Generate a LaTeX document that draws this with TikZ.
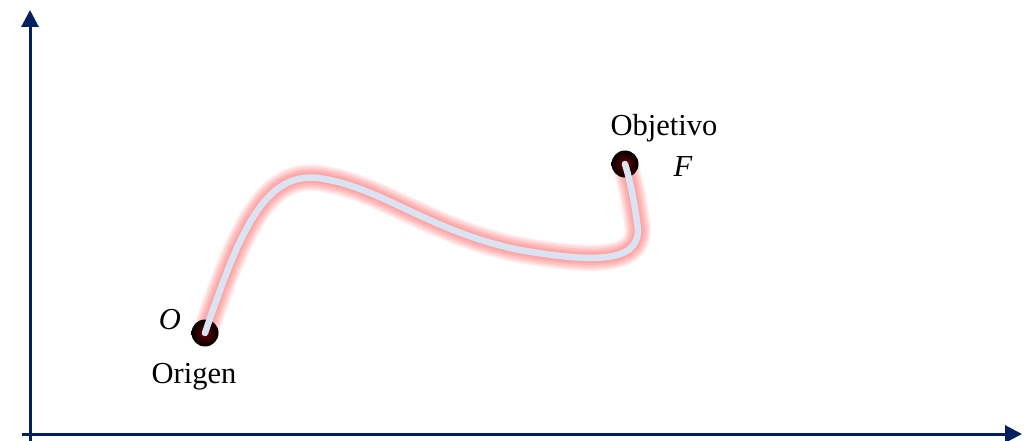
\documentclass[tikz,border=0pt]{standalone}
\usepackage{fontspec}
\setmainfont{Liberation Serif}
\usetikzlibrary{arrows.meta}
\definecolor{axisblue}{RGB}{0,32,96}
\definecolor{corecol}{RGB}{218,227,242}
\definecolor{dotred}{RGB}{110,0,0}
\tikzset{
  axis/.style={draw=axisblue, line width=3pt, -{Triangle[length=17pt,width=17pt]}},
  dot/.style={circle, minimum size=27pt, inner sep=0pt, shading=radial, inner color=dotred, outer color=black},
  lbl/.style={font=\fontsize{30.5}{36}\selectfont, inner sep=0pt},
  glow/.style={draw=red!75, line width=#1, opacity=0.12, line cap=round},
  core/.style={draw=corecol, line width=6.5pt, line cap=round}
}
\begin{document}
\begin{tikzpicture}[x=1pt,y=-1pt]
\useasboundingbox (0,0) rectangle (1026,441);
\coordinate (yb) at (30,441);
\coordinate (yt) at (30,10);
\coordinate (xl) at (22,434);
\coordinate (xr) at (1022,434);
\draw[axis] (yb) -- (yt);
\draw[axis] (xl) -- (xr);
\coordinate (o) at (205,333);
\coordinate (f) at (625,164);
\def\curve{(o) .. controls (240,230) and (265,172) .. (318,178)
  .. controls (380,186) and (430,232) .. (520,250)
  .. controls (600,264) and (645,262) .. (637,222)
  .. controls (634,200) and (630,180) .. (f)}
\foreach \w in {26,22,18,14,10} {
  \draw[glow=\w pt] \curve;
}
\node[dot] (od) at (o) {};
\node[dot] (fd) at (f) {};
\draw[core] (o) .. controls (240,230) and (265,172) .. (318,178)
  .. controls (380,186) and (430,232) .. (520,250)
  .. controls (600,264) and (645,262) .. (637,222)
  .. controls (634,200) and (630,180) .. (f);
\node[lbl] (ol) at (170,320) {\itshape O};
\node[lbl] (origen) at (194,377) {Origen};
\node[lbl] (objetivo) at (664,128) {Objetivo};
\node[lbl] (fl) at (683,167) {\itshape F};
\end{tikzpicture}
\end{document}
